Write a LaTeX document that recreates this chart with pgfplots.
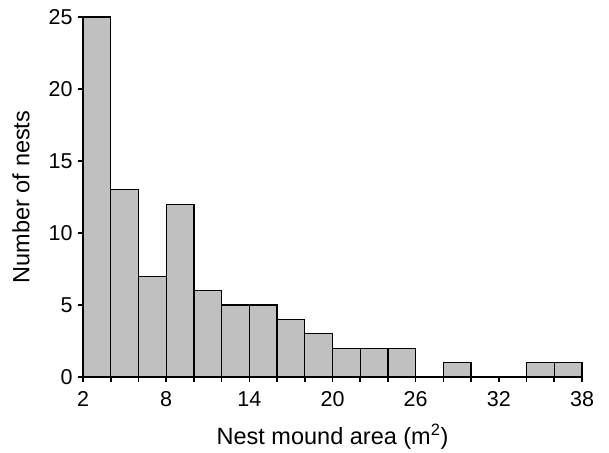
\documentclass[border=0pt]{standalone}
\usepackage{fontspec}
\setmainfont{Liberation Sans}
\usepackage{pgfplots}
\pgfplotsset{compat=1.18}
\definecolor{barfill}{RGB}{192,192,192}
\begin{document}
\begin{tikzpicture}
\path[use as bounding box] (-83pt,-75pt) rectangle (526pt,377pt);
\begin{axis}[
  at={(0,0)}, anchor=origin,
  scale only axis,
  width=499pt, height=360pt,
  xmin=2, xmax=38, ymin=0, ymax=25,
  axis lines*=left,
  axis line style={line width=1.6pt, -},
  xtick={2,8,...,38},
  minor xtick={4,6,...,36},
  ytick={0,5,...,25},
  tick align=outside,
  major tick length=5pt,
  minor tick length=5pt,
  every tick/.style={black, line width=1.6pt},
  /pgf/number format/assume math mode=true,
  tick label style={font=\fontsize{21.5}{24}\selectfont},
  xticklabel style={yshift=-6pt},
  yticklabel style={xshift=-2pt},
  every axis label/.append style={font=\fontsize{23.5}{27}\selectfont},
  xlabel={Nest mound area (m\textsuperscript{2})},
  ylabel={Number of nests},
  xlabel style={yshift=-10pt},
  ylabel style={yshift=12pt},
  clip=false,
]
\addplot[ybar interval, fill=barfill, draw=black, line width=1.3pt] coordinates {
(2,25) (4,13) (6,7) (8,12) (10,6) (12,5) (14,5) (16,4) (18,3) (20,2) (22,2) (24,2) (26,0) (28,1) (30,0) (32,0) (34,1) (36,1) (38,1)
};
\end{axis}
\end{tikzpicture}
\end{document}
